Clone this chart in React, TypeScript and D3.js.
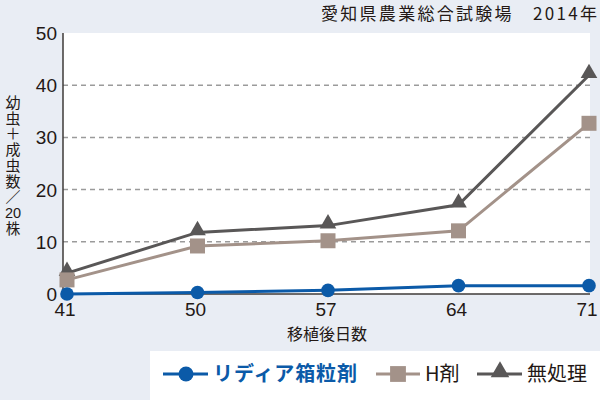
import React from "react";
import * as d3 from "d3";

const days = ["41", "50", "57", "64", "71"];
const lydia = [0, 0.3, 0.7, 1.6, 1.6];
const hzai = [2.7, 9.2, 10.2, 12.1, 32.7];
const untreated = [4.0, 11.8, 13.1, 17.1, 41.9];
const yTicks = [0, 10, 20, 30, 40, 50];
const seriesNames = ["リディア箱粒剤", "H剤", "無処理"];
const title = "愛知県農業総合試験場　2014年";
const yLabelParts = ["幼虫＋成虫数／", "20", "株"];
const xLabel = "移植後日数";

const W = 600, H = 400;
const L = 63, R = 590, T = 33, B = 294;
const BLUE = "#0b5aa8", GRAYB = "#a39289", DARK = "#595757", TXT = "#231815", BG = "#e9edf4";
const FONT = "'Noto Sans CJK JP', 'Noto Sans', sans-serif";
const NUMFONT = "'Liberation Sans', Arial, sans-serif";

export default function App() {
  const x = d3.scalePoint<string>().domain(days).range([67, 589]);
  const y = d3.scaleLinear().domain([0, 50]).range([B, T]);
  const line = d3.line<number>().x((_, i) => x(days[i])!).y((d) => y(d));
  const tri = d3.symbol().type(d3.symbolTriangle).size(120)();
  const triL = d3.symbol().type(d3.symbolTriangle).size(150)();
  const sq = d3.symbol().type(d3.symbolSquare).size(225)();
  const sqL = d3.symbol().type(d3.symbolSquare).size(250)();

  return (
    <svg width={W} height={H} style={{ position: "absolute", left: 0, top: 0, display: "block" }}>
      <rect x={0} y={0} width={W} height={H} fill={BG} />
      <rect x={L} y={T} width={R - L} height={B - T} fill="#fff" />
      {yTicks.filter((t) => t > 0 && t < 50).map((t) => (
        <line key={t} x1={L} x2={R} y1={y(t)} y2={y(t)} stroke="#9b9b9b" strokeWidth={1.5} strokeDasharray="5,4" />
      ))}
      <line x1={L} x2={L} y1={T} y2={B} stroke="#3e3a39" strokeWidth={1.5} />
      <line x1={L} x2={R} y1={B} y2={B} stroke="#3e3a39" strokeWidth={1.5} />
      {yTicks.map((t) => (
        <text key={t} x={57} y={y(t) + 7} textAnchor="end" fontFamily={NUMFONT} fontSize={19} fill={TXT}>{t}</text>
      ))}
      {days.map((d) => (
        <text key={d} x={x(d)! - 2} y={316} textAnchor="middle" fontFamily={NUMFONT} fontSize={19} fill={TXT}>{d}</text>
      ))}
      <text x={327} y={340} textAnchor="middle" fontFamily={FONT} fontSize={16} fill={TXT}>{xLabel}</text>
      <text x={13} y={94.5} fontFamily={FONT} fontSize={15} fill={TXT}
        style={{ writingMode: "vertical-rl", textOrientation: "upright", letterSpacing: "0.9px" } as any}>{yLabelParts[0]}</text>
      <text x={13} y={218} textAnchor="middle" fontFamily={NUMFONT} fontSize={14.5} fill={TXT}>{yLabelParts[1]}</text>
      <text x={13} y={221} fontFamily={FONT} fontSize={14.5} fill={TXT}
        style={{ writingMode: "vertical-rl", textOrientation: "upright" } as any}>{yLabelParts[2]}</text>
      <text x={321} y={20} fontFamily={FONT} fontSize={17} fill={TXT} textLength={276} lengthAdjust="spacing">{title}</text>

      <path d={line(untreated)!} fill="none" stroke={DARK} strokeWidth={3} />
      {untreated.map((v, i) => (
        <path key={i} d={tri} transform={`translate(${x(days[i])},${y(v) - 2})`} fill={DARK} />
      ))}
      <path d={line(hzai)!} fill="none" stroke={GRAYB} strokeWidth={3} />
      {hzai.map((v, i) => (
        <path key={i} d={sq} transform={`translate(${x(days[i])},${y(v)})`} fill={GRAYB} />
      ))}
      <path d={line(lydia)!} fill="none" stroke={BLUE} strokeWidth={3} />
      {lydia.map((v, i) => (
        <circle key={i} cx={x(days[i])} cy={y(v)} r={6.8} fill={BLUE} />
      ))}

      <rect x={150} y={351} width={450} height={49} fill="#fff" />
      <line x1={163} x2={208} y1={374} y2={374} stroke={BLUE} strokeWidth={3} />
      <circle cx={186} cy={374} r={7.5} fill={BLUE} />
      <text x={213} y={381} fontFamily={FONT} fontSize={20} fontWeight="bold" fill={BLUE} textLength={144} lengthAdjust="spacing">{seriesNames[0]}</text>
      <line x1={376} x2={420} y1={374} y2={374} stroke={GRAYB} strokeWidth={3} />
      <path d={sqL} transform="translate(398,374)" fill={GRAYB} />
      <text x={425} y={381} fontFamily={FONT} fontSize={20} fill={TXT}>{seriesNames[1]}</text>
      <line x1={477} x2={522} y1={374} y2={374} stroke={DARK} strokeWidth={3} />
      <path d={triL} transform="translate(500,372)" fill={DARK} />
      <text x={527} y={381} fontFamily={FONT} fontSize={20} fill={TXT}>{seriesNames[2]}</text>
    </svg>
  );
}
